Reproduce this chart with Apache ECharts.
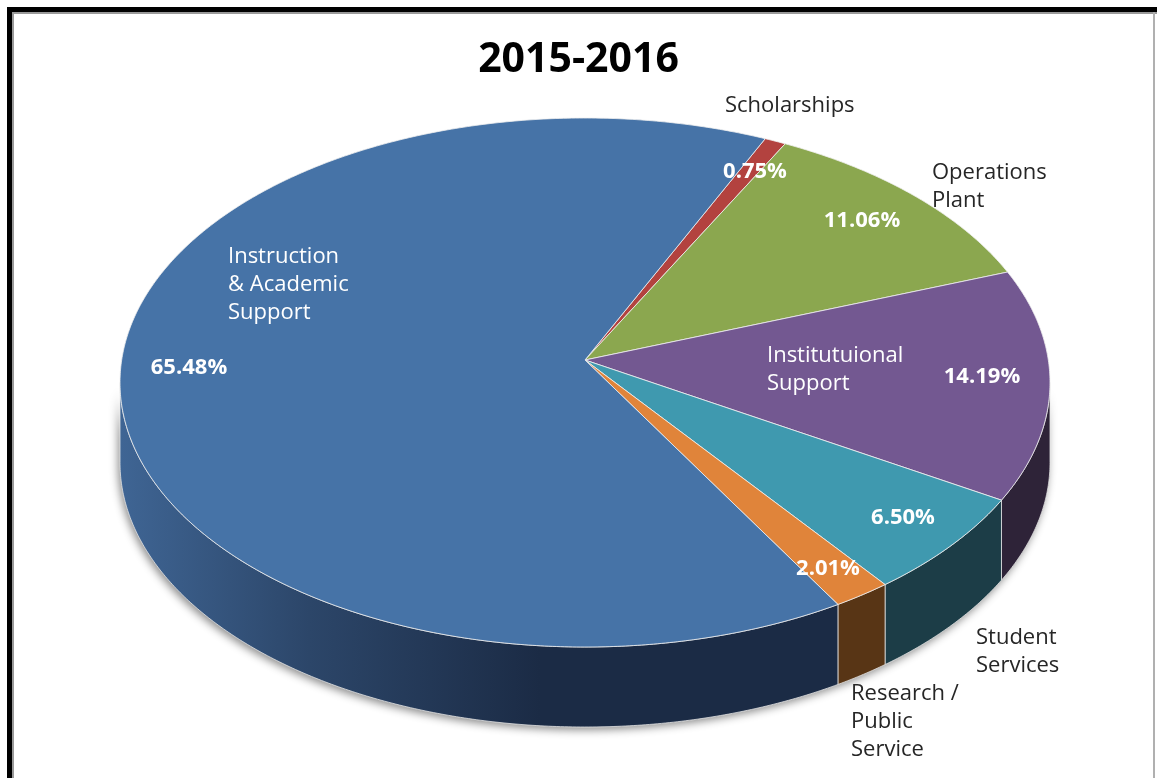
<!DOCTYPE html>
<html>
<head>
<meta charset="utf-8">
<script src="https://cdn.jsdelivr.net/npm/echarts@6/dist/echarts.min.js"></script>
<style>
  html, body { margin: 0; padding: 0; background: #ffffff; }
  #chart { width: 1157px; height: 778px; }
</style>
</head>
<body>
<div id="chart"></div>
<script>
// Budget shares by function, 2015-2016 (percent), clockwise from Scholarships
const categories = [
  'Scholarships',
  'Operations Plant',
  'Institutuional Support',
  'Student Services',
  'Research / Public Service',
  'Instruction & Academic Support'
];
const values = [0.75, 11.06, 14.19, 6.50, 2.01, 65.48];
const nameLabels = [
  'Scholarships',
  'Operations\nPlant',
  'Institutuional\nSupport',
  'Student\nServices',
  'Research /\nPublic\nService',
  'Instruction\n& Academic\nSupport'
];
const titleText = '2015-2016';

// Styling
const topColors  = ['#B3423F', '#8BA74F', '#735891', '#3F99AF', '#E0843A', '#4673A7'];
const sideColors = ['#5E2221', '#4A5A2A', '#2E2338', '#1C3D47', '#583515', '#1B2B45'];
const nameColors = ['#262626', '#262626', '#FFFFFF', '#262626', '#262626', '#FFFFFF'];
const FONT = '"Open Sans", "DejaVu Sans", sans-serif';

// Pie geometry (tilted disc with perspective apex)
const G = { cx: 585, cy: 382.5, rx: 465, ry: 264.5, apexX: 585, apexY: 360, depth: 80, start: 22.8 };

// Label anchor positions: percent labels are centred, name labels left-aligned (first-line centre)
const pctPos  = [[755, 172], [862, 221], [982, 377], [903, 518], [828, 569], [189, 368]];
const namePos = [[725, 106], [932, 173], [767, 356], [976, 638], [851, 694], [228, 257]];
const LINE_H = 28;

// Angular spans (degrees clockwise from 12 o'clock) derived from the values
const total = values.reduce((a, b) => a + b, 0);
const spans = [];
(function () {
  let acc = G.start;
  values.forEach(v => { const s = acc; acc += v / total * 360; spans.push([s, acc]); });
})();

function rim(t, dy) {
  const r = t * Math.PI / 180;
  return [G.cx + G.rx * Math.sin(r), G.cy - G.ry * Math.cos(r) + (dy || 0)];
}
function arc(a, b, dy) {
  const pts = [];
  const n = Math.max(2, Math.ceil(Math.abs(b - a) / 0.5));
  for (let i = 0; i <= n; i++) pts.push(rim(a + (b - a) * i / n, dy));
  return pts;
}
function sideFill(i) {
  if (i === 5) {
    return new echarts.graphic.LinearGradient(120, 0, 540, 0, [
      { offset: 0, color: '#3F6594' },
      { offset: 0.45, color: '#2C4669' },
      { offset: 1, color: '#1B2B45' }
    ], true);
  }
  return sideColors[i];
}

function renderItem(params, api) {
  const i = params.dataIndex;
  const [a, b] = spans[i];
  const children = [];

  // soft shadow under the whole front wall
  if (i === 0) {
    const sil = arc(90, 270, 0).concat(arc(270, 90, G.depth));
    children.push({
      type: 'polygon', z2: -1,
      shape: { points: sil },
      style: { fill: '#9a9a9a', shadowBlur: 8, shadowColor: 'rgba(0,0,0,0.45)', shadowOffsetX: -2, shadowOffsetY: 3 }
    });
  }

  // visible front wall of this slice
  const lo = Math.max(a, 90), hi = Math.min(b, 270);
  if (hi > lo) {
    const pts = arc(lo, hi, 0).concat(arc(hi, lo, G.depth));
    children.push({
      type: 'polygon', z2: 1,
      shape: { points: pts },
      style: { fill: sideFill(i), stroke: 'rgba(235,235,235,0.75)', lineWidth: 1 }
    });
  }

  // top face
  const top = [[G.apexX, G.apexY]].concat(arc(a, b, 0));
  children.push({
    type: 'polygon', z2: 5,
    shape: { points: top },
    style: { fill: api.visual('color'), stroke: 'rgba(240,240,240,0.8)', lineWidth: 1 }
  });

  // value label
  children.push({
    type: 'text', z2: 10,
    x: pctPos[i][0], y: pctPos[i][1],
    style: {
      text: values[i].toFixed(2) + '%',
      fill: '#FFFFFF', fontFamily: FONT, fontSize: 22, fontWeight: 'bold',
      align: 'center', verticalAlign: 'middle'
    }
  });

  // category label
  children.push({
    type: 'text', z2: 10,
    x: namePos[i][0], y: namePos[i][1] - LINE_H / 2,
    style: {
      text: nameLabels[i],
      fill: nameColors[i], fontFamily: FONT, fontSize: 22, lineHeight: LINE_H,
      align: 'left', verticalAlign: 'top'
    }
  });

  return { type: 'group', children };
}

const chart = echarts.init(document.getElementById('chart'), null, { renderer: 'canvas' });
chart.setOption({
  backgroundColor: '#FFFFFF',
  animation: false,
  title: {
    text: titleText,
    left: 'center',
    top: 35,
    textStyle: { fontFamily: FONT, fontSize: 41, fontWeight: 'bold', color: '#000000' }
  },
  graphic: [
    { type: 'rect', shape: { x: 7, y: 7, width: 1150, height: 5 }, style: { fill: '#000000' } },
    { type: 'rect', shape: { x: 12, y: 12, width: 1145, height: 2 }, style: { fill: '#9A9A9A' } },
    { type: 'rect', shape: { x: 7, y: 7, width: 5, height: 771 }, style: { fill: '#000000' } },
    { type: 'rect', shape: { x: 12, y: 12, width: 2, height: 766 }, style: { fill: '#9A9A9A' } },
    { type: 'rect', shape: { x: 1153, y: 12, width: 2, height: 766 }, style: { fill: '#B0B0B0' } }
  ],
  series: [{
    type: 'custom',
    coordinateSystem: 'none',
    silent: true,
    renderItem: renderItem,
    data: values.map((v, i) => ({ value: v, name: categories[i], itemStyle: { color: topColors[i] } }))
  }]
});
</script>
</body>
</html>
